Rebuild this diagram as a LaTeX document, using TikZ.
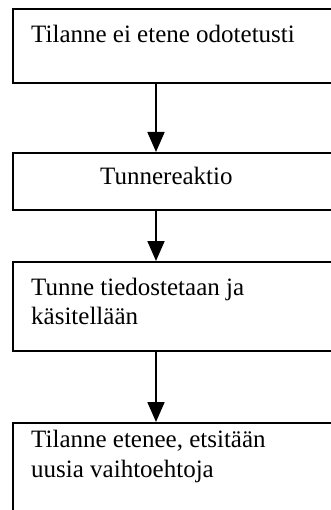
\documentclass[tikz,border=0pt]{standalone}
\usepackage{fontspec}
\setmainfont{Liberation Serif}
\usetikzlibrary{arrows.meta}
\begin{document}
\begin{tikzpicture}[x=1pt,y=-1pt,
  boxstyle/.style={draw=black,line width=1.8pt,rectangle,inner sep=0pt,anchor=north west},
  txt/.style={anchor=base west,inner sep=0pt,font=\fontsize{25}{29}\selectfont,align=left},
  arr/.style={line width=1.8pt,-{Triangle[length=20pt,width=17pt]}}]
\useasboundingbox (0,0) rectangle (331,510);
\clip (0,0) rectangle (331,510);
\coordinate (ax) at (156,0);
\node[boxstyle,minimum width=340pt,minimum height=74pt] (b1) at (12,8) {};
\node[boxstyle,minimum width=340pt,minimum height=57pt] (b2) at (12,152) {};
\node[boxstyle,minimum width=340pt,minimum height=89pt] (b3) at (12,261) {};
\node[boxstyle,minimum width=340pt,minimum height=110pt] (b4) at (12,422) {};
\node[txt] (t1) at (31,42.5) {Tilanne ei etene odotetusti};
\node[txt] (t2) at (100,185) {Tunnereaktio};
\node[txt] (t3a) at (31,295) {Tunne tiedostetaan ja};
\node[txt] (t3b) at (31,324) {käsitellään};
\node[txt] (t4a) at (31,447) {Tilanne etenee, etsitään};
\node[txt] (t4b) at (31,477) {uusia vaihtoehtoja};
\draw[arr] (b1.south -| ax) -- (b2.north -| ax);
\draw[arr] (b2.south -| ax) -- (b3.north -| ax);
\draw[arr] (b3.south -| ax) -- (b4.north -| ax);
\end{tikzpicture}
\end{document}
